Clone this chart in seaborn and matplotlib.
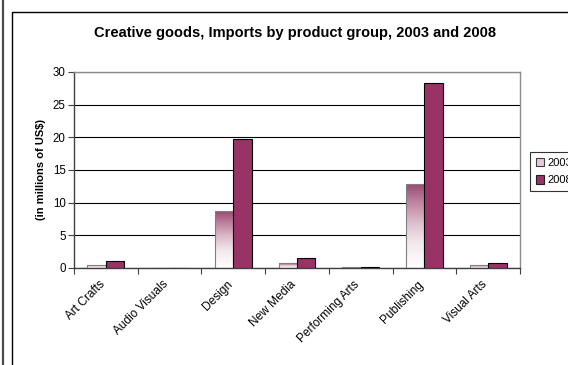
import numpy as np
import pandas as pd
import matplotlib
matplotlib.use("Agg")
import matplotlib.pyplot as plt
from matplotlib.colors import LinearSegmentedColormap
from matplotlib.lines import Line2D
from matplotlib.patches import Patch
import seaborn as sns

# Import values (millions of US$) by product group
categories = ["Art Crafts", "Audio Visuals", "Design", "New Media",
              "Performing Arts", "Publishing", "Visual Arts"]
imports_2003 = [0.5, 0.0, 8.7, 0.7, 0.15, 12.8, 0.4]
imports_2008 = [1.0, 0.0, 19.7, 1.5, 0.15, 28.3, 0.7]
years = ["2003", "2008"]
y_ticks = [0, 5, 10, 15, 20, 25, 30]

df = pd.DataFrame({
    "group": categories * 2,
    "value": imports_2003 + imports_2008,
    "year": [years[0]] * len(categories) + [years[1]] * len(categories),
})

sns.set_theme(style="white")
plt.rcParams["font.family"] = ["Liberation Sans", "DejaVu Sans"]
plt.rcParams.update({"text.color": "black", "axes.labelcolor": "black",
                     "xtick.color": "black", "ytick.color": "black"})

W, H = 568, 365
fig = plt.figure(figsize=(W / 100, H / 100), dpi=100)
fig.patch.set_facecolor("white")

left, right, top, bottom = 74, 520, 72, 268
ax = fig.add_axes([left / W, 1 - bottom / H, (right - left) / W, (bottom - top) / H])

maroon = "#993366"
sns.barplot(data=df, x="group", y="value", hue="year", order=categories,
            hue_order=years, palette={"2003": "white", "2008": maroon},
            width=0.58, gap=0, legend=False, ax=ax, saturation=1)

# 2008 bars: solid maroon with black outline
for bar in ax.containers[1]:
    bar.set_edgecolor("black")
    bar.set_linewidth(0.8)
    bar.set_zorder(3)

# 2003 bars: vertical gradient from maroon (top) to white (bottom)
grad_cmap = LinearSegmentedColormap.from_list(
    "fade", [(0.0, "#ffffff"), (0.3, "#f3e9ed"), (0.55, "#dcbccb"),
             (0.8, "#bd7f9d"), (1.0, "#9a4a73")])
grad = np.linspace(0, 1, 256).reshape(-1, 1)
for bar in ax.containers[0]:
    x0, w, h = bar.get_x(), bar.get_width(), bar.get_height()
    bar.set_facecolor("none")
    bar.set_edgecolor("#7f7f7f")
    bar.set_linewidth(0.8)
    bar.set_zorder(3)
    if h > 0:
        im = ax.imshow(grad, extent=[x0, x0 + w, 0, h], origin="lower",
                       cmap=grad_cmap, aspect="auto", zorder=2.5,
                       interpolation="bilinear")
        im.set_clip_path(bar)

n = len(categories)
ax.set_xlim(-0.5, n - 0.5)
ax.set_ylim(0, 30)
ax.set_aspect("auto")

# Horizontal gridlines
ax.set_yticks(y_ticks)
ax.yaxis.grid(True, color="black", linewidth=0.8)
ax.set_axisbelow(True)

# Category labels: rotated, ending just left of each group centre;
# tick marks sit between the groups
label_offset = 0.11
ax.set_xticks(np.arange(n) - label_offset)
ax.set_xticklabels(categories, rotation=45, ha="right", va="top",
                   rotation_mode="anchor", fontsize=8.6)
ax.set_xticks(np.arange(-0.5, n, 1.0), minor=True)
ax.tick_params(axis="x", which="major", length=0, pad=7.5)
ax.tick_params(axis="x", which="minor", length=4, width=0.8, color="#404040",
               direction="out", bottom=True)
ax.tick_params(axis="y", length=4, width=0.8, color="#404040", direction="out",
               left=True, labelsize=8.3, pad=2)

for side in ["top", "right"]:
    ax.spines[side].set_color("#8c8c8c")
    ax.spines[side].set_linewidth(1.0)
for side in ["left", "bottom"]:
    ax.spines[side].set_color("#404040")
    ax.spines[side].set_linewidth(1.0)

ax.set_xlabel("")
ax.set_ylabel("(in millions of US$)", fontsize=8, fontweight="bold")
ax.yaxis.set_label_coords(-28 / (right - left), 0.5)

fig.text(295 / W, 1 - 33 / H, "Creative goods, Imports by product group, 2003 and 2008",
         ha="center", va="center", fontsize=10.5, fontweight="bold")

# Legend
handles = [Patch(facecolor="#e6c9d6", edgecolor="#404040", linewidth=0.8, label="2003"),
           Patch(facecolor=maroon, edgecolor="#202020", linewidth=0.8, label="2008")]
leg = fig.legend(handles=handles, loc="upper left",
                 bbox_to_anchor=(530 / W, 1 - 152 / H), fontsize=8,
                 frameon=True, fancybox=False, edgecolor="black",
                 handlelength=0.75, handleheight=0.75, handletextpad=0.3,
                 borderpad=0.5, labelspacing=0.7, borderaxespad=0)
leg.get_frame().set_linewidth(0.8)

# Chart frame
fig.add_artist(Line2D([12 / W, 12 / W], [0, 1 - 12 / H], color="black", linewidth=1.0))
fig.add_artist(Line2D([12 / W, 1], [1 - 12 / H, 1 - 12 / H], color="black", linewidth=1.0))
fig.add_artist(Line2D([3.5 / W, 3.5 / W], [0, 1], color="#4a4a4a", linewidth=1.6))

fig.savefig("out.png", dpi=100, facecolor="white")
